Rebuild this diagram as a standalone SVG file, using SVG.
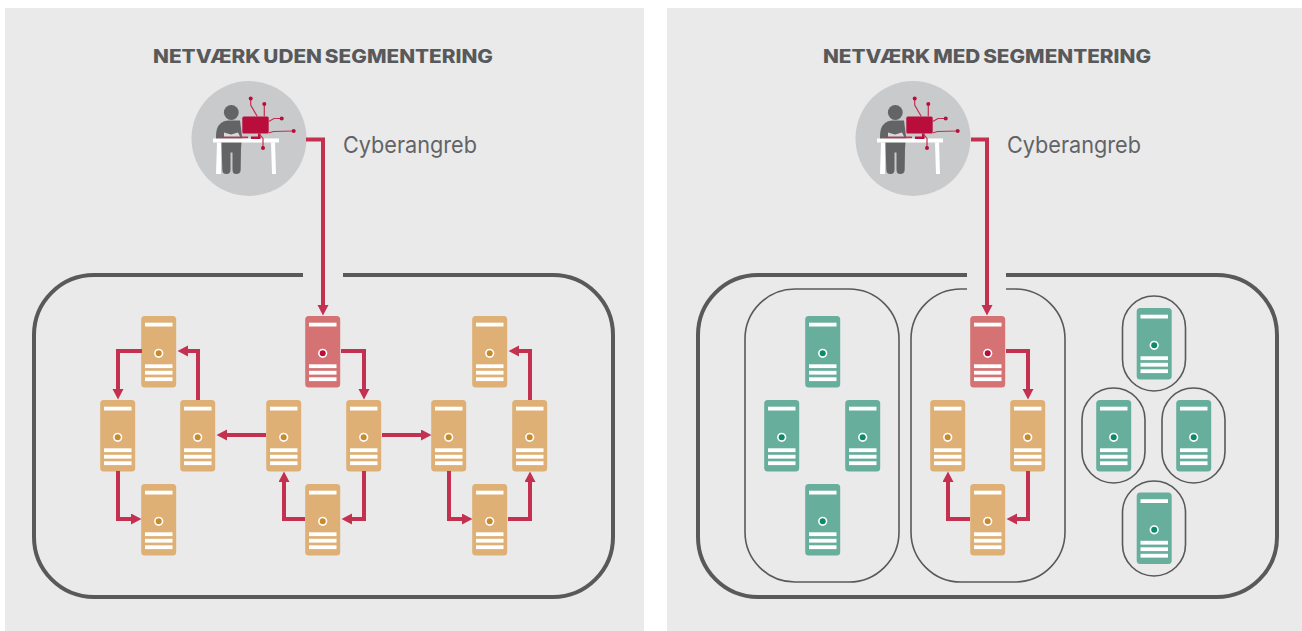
<svg xmlns="http://www.w3.org/2000/svg" width="1302" height="631" viewBox="0 0 1302 631">
<style>
.panel{fill:#eaeaea}
.title{font-family:"Inter","Liberation Sans",sans-serif;font-weight:800;font-size:18.500px;fill:#58595b;word-spacing:-1.500px}
.lbl{font-family:"Inter","Liberation Sans",sans-serif;font-weight:400;font-size:22.500px;fill:#626366}
.net{fill:none;stroke:#58595b;stroke-width:4}
.seg{fill:none;stroke:#58595b;stroke-width:1.6}
.c{fill:none;stroke:#c4304f;stroke-width:4;marker-end:url(#ah)}
.b{fill:#fff}
.o{fill:#deb075}.od{fill:#c98a2b}
.r{fill:#d57274}.rd{fill:#b90d3b}
.g{fill:#67ae9c}.gd{fill:#0c8a6c}
.ln{fill:none;stroke:#c4304f;stroke-width:1.2}
.hd{fill:#b90d3b}
</style>
<defs>
<marker id="ah" markerUnits="userSpaceOnUse" markerWidth="12" markerHeight="12" refX="3" refY="5.500" orient="auto"><path d="M0 0L10.500 5.500L0 11Z" fill="#c4304f"/></marker>
<g id="bars">
<rect x="4" y="6.700" width="27.500" height="3.800" class="b"/>
<rect x="4" y="48.300" width="27.500" height="3.800" class="b"/>
<rect x="4" y="54.800" width="27.500" height="3.800" class="b"/>
<rect x="4" y="61.300" width="27.500" height="3.800" class="b"/>
<circle cx="17.700" cy="37.300" r="4.600" class="b"/>
</g>
<g id="so"><rect x="0.200" y="0" width="35" height="71.500" rx="3.500" class="o"/><use href="#bars"/><circle cx="17.700" cy="37.300" r="3" class="od"/></g>
<g id="sr"><rect x="0.200" y="0" width="35" height="71.500" rx="3.500" class="r"/><use href="#bars"/><circle cx="17.700" cy="37.300" r="3" class="rd"/></g>
<g id="sg"><rect x="0.200" y="0" width="35" height="71.500" rx="3.500" class="g"/><use href="#bars"/><circle cx="17.700" cy="37.300" r="3" class="gd"/></g>
<g id="attacker">
<circle cx="0" cy="0" r="57.500" fill="#c9cacb"/>
<circle cx="-17.700" cy="-26" r="7.400" fill="#636466"/>
<path d="M-33 -2C-33 -13 -28 -18 -20 -18L-9 -18L-7 -2L-8 10L-8.300 31Q-8.300 35.500 -13 35.500Q-16.500 35.500 -16.500 31L-16.500 14L-18.500 14L-18.500 31Q-18.500 35.500 -22.500 35.500Q-26.700 35.500 -26.700 31L-27.500 4L-33 1Z" fill="#636466"/>
<path d="M-27.500 -2L-1 -2L-1 0L-27.500 0Z" fill="#c4304f"/>
<path d="M-25 -6L-18 -4L-11 -6L-9 -2L-25 -2Z" fill="#d9d9da"/>
<rect x="-36" y="0" width="66" height="4" fill="#fff"/>
<path d="M-32 4L-28 4L-28 35.500L-33 35.500Z M22 4L26 4L27 35.500L23 35.500Z" fill="#fff"/>
<rect x="-6.700" y="-22" width="26.400" height="17" rx="1.500" fill="#b90d3b"/>
<rect x="9" y="-5" width="2.500" height="4" fill="#b90d3b"/>
<rect x="2" y="-2" width="9.500" height="2.500" fill="#b90d3b"/>
<path class="ln" d="M8.300 -22L1.700 -33.500L1.700 -40M15.300 -22L15.300 -34.500M19.700 -17L25 -20L32.700 -20M19.700 -5.500L24.300 -7L44.700 -7.500M10 -5L14 0L14 9.500"/>
<circle cx="1.700" cy="-40" r="2" class="hd"/><circle cx="15.300" cy="-34.500" r="2" class="hd"/><circle cx="32.700" cy="-20" r="2" class="hd"/><circle cx="44.700" cy="-7.500" r="2" class="hd"/><circle cx="14" cy="9.500" r="2" class="hd"/>
</g>
</defs>
<rect x="0" y="0" width="1302" height="631" fill="#fff"/>
<rect class="panel" x="5" y="8" width="639" height="623"/>
<rect class="panel" x="667" y="8" width="635" height="623"/>
<text class="title" x="153" y="62.500" textLength="340" lengthAdjust="spacingAndGlyphs">NETVÆRK UDEN SEGMENTERING</text>
<text class="title" x="823" y="62.500" textLength="328" lengthAdjust="spacingAndGlyphs">NETVÆRK MED SEGMENTERING</text>
<text class="lbl" x="343" y="153" textLength="134" lengthAdjust="spacingAndGlyphs">Cyberangreb</text>
<text class="lbl" x="1007" y="153" textLength="134" lengthAdjust="spacingAndGlyphs">Cyberangreb</text>
<g id="attacker-left"><use href="#attacker" x="249" y="138.500"/></g>
<g id="attacker-right"><use href="#attacker" x="913" y="138.500"/></g>
<g id="network-boundaries">
<path class="net" d="M303 275L94 275A60 60 0 0 0 34 335L34 537A60 60 0 0 0 94 597L553 597A60 60 0 0 0 613 537L613 335A60 60 0 0 0 553 275L343 275"/>
<path class="net" d="M967 275L758 275A60 60 0 0 0 698 335L698 537A60 60 0 0 0 758 597L1217 597A60 60 0 0 0 1277 537L1277 335A60 60 0 0 0 1217 275L1006 275"/>
<rect class="seg" x="745" y="289" width="154" height="293" rx="50"/>
<path class="seg" d="M967 289L961 289A50 50 0 0 0 911 339L911 532A50 50 0 0 0 961 582L1015 582A50 50 0 0 0 1065 532L1065 339A50 50 0 0 0 1015 289L1006 289"/>
<rect class="seg" x="1122.500" y="296" width="63" height="95" rx="31.500"/>
<rect class="seg" x="1082" y="388" width="63" height="95" rx="31.500"/>
<rect class="seg" x="1162" y="388" width="63" height="95" rx="31.500"/>
<rect class="seg" x="1122.500" y="481" width="63" height="95" rx="31.500"/>
</g>
<g id="servers">
<g id="l1"><use href="#so" x="141" y="316"/></g>
<g id="l2"><use href="#so" x="100" y="400"/></g>
<g id="l3"><use href="#so" x="180" y="400"/></g>
<g id="l4"><use href="#so" x="141" y="484"/></g>
<g id="l5"><use href="#so" x="266" y="400"/></g>
<g id="l6"><use href="#so" x="346" y="400"/></g>
<g id="l7"><use href="#so" x="305" y="484"/></g>
<g id="l8"><use href="#sr" x="305" y="316"/></g>
<g id="l9"><use href="#so" x="431" y="400"/></g>
<g id="l10"><use href="#so" x="512" y="400"/></g>
<g id="l11"><use href="#so" x="472" y="316"/></g>
<g id="l12"><use href="#so" x="472" y="484"/></g>
<g id="r1"><use href="#sg" x="805" y="316"/></g>
<g id="r2"><use href="#sg" x="764" y="400"/></g>
<g id="r3"><use href="#sg" x="845" y="400"/></g>
<g id="r4"><use href="#sg" x="805" y="484"/></g>
<g id="r5"><use href="#sr" x="970" y="316"/></g>
<g id="r6"><use href="#so" x="930" y="400"/></g>
<g id="r7"><use href="#so" x="1010" y="400"/></g>
<g id="r8"><use href="#so" x="970" y="484"/></g>
<g id="r9"><use href="#sg" x="1136.500" y="308"/></g>
<g id="r10"><use href="#sg" x="1096" y="400"/></g>
<g id="r11"><use href="#sg" x="1176" y="400"/></g>
<g id="r12"><use href="#sg" x="1136.500" y="492.500"/></g>
</g>
<g id="connectors">
<path class="c" d="M306 139.500L323 139.500L323 308"/>
<path class="c" d="M971 139.500L987 139.500L987 308"/>
<path class="c" d="M142 351L118 351L118 392"/>
<path class="c" d="M198 400L198 351L185 351"/>
<path class="c" d="M118 471L118 519L134 519"/>
<path class="c" d="M266 435L224 435"/>
<path class="c" d="M341 351L364 351L364 392"/>
<path class="c" d="M382 435L424 435"/>
<path class="c" d="M364 471L364 519L349 519"/>
<path class="c" d="M305 519L284 519L284 479"/>
<path class="c" d="M449 471L449 519L465 519"/>
<path class="c" d="M508 519L530 519L530 479"/>
<path class="c" d="M530 400L530 351L516 351"/>
<path class="c" d="M1006 351L1028 351L1028 392"/>
<path class="c" d="M1028 471L1028 519L1014 519"/>
<path class="c" d="M970 519L948 519L948 479"/>
</g>
</svg>
